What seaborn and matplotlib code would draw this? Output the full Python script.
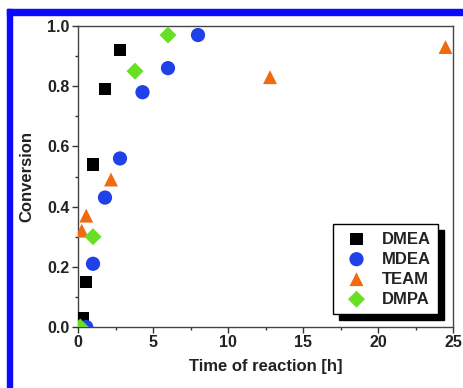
import matplotlib
matplotlib.use("Agg")
import matplotlib.pyplot as plt
import matplotlib.patches as mpatches
import seaborn as sns
import pandas as pd

# Conversion vs. reaction time for four amine catalysts
dmea_t = [0.35, 0.55, 1.0, 1.8, 2.8]
dmea_c = [0.03, 0.15, 0.54, 0.79, 0.92]

mdea_t = [0.55, 1.0, 1.8, 2.8, 4.3, 6.0, 8.0]
mdea_c = [0.0, 0.21, 0.43, 0.56, 0.78, 0.86, 0.97]

team_t = [0.25, 0.55, 2.2, 12.8, 24.5]
team_c = [0.32, 0.37, 0.49, 0.83, 0.93]

dmpa_t = [0.15, 1.0, 3.8, 6.0]
dmpa_c = [0.0, 0.30, 0.85, 0.97]

series = ["DMEA", "MDEA", "TEAM", "DMPA"]
colors = ["#000000", "#2040e8", "#f26a10", "#66e020"]
markers = ["s", "o", "^", "D"]
sizes = [80, 105, 100, 75]

x_ticks = [0, 5, 10, 15, 20, 25]
y_ticks = [0.0, 0.2, 0.4, 0.6, 0.8, 1.0]

frames = []
for name, t, c in zip(series, [dmea_t, mdea_t, team_t, dmpa_t],
                      [dmea_c, mdea_c, team_c, dmpa_c]):
    frames.append(pd.DataFrame({"time": t, "conv": c, "amine": name}))
df = pd.concat(frames, ignore_index=True)

sns.set_theme(style="white")
plt.rcParams["font.family"] = ["Liberation Sans", "DejaVu Sans"]
plt.rcParams["font.weight"] = "bold"

fig = plt.figure(figsize=(4.63, 3.88), dpi=100)
ax = fig.add_axes([78 / 463, 1 - 327 / 388, 375 / 463, 301 / 388])

for name, col, mk, sz in zip(series, colors, markers, sizes):
    sub = df[df["amine"] == name]
    sns.scatterplot(data=sub, x="time", y="conv", color=col, marker=mk,
                    s=sz, edgecolor="none", linewidth=0, label=name, ax=ax,
                    zorder=3)

ax.set_xlim(0, 25)
ax.set_ylim(0, 1.0)
ax.set_xticks(x_ticks)
ax.set_yticks(y_ticks)
ax.set_xticklabels([str(v) for v in x_ticks], fontsize=11.5, fontweight="bold")
ax.set_yticklabels([f"{v:.1f}" for v in y_ticks], fontsize=11.5, fontweight="bold")
ax.set_xticks([2.5, 7.5, 12.5, 17.5, 22.5], minor=True)
ax.set_yticks([0.1, 0.3, 0.5, 0.7, 0.9], minor=True)
ax.tick_params(axis="both", which="major", direction="out", length=4,
               width=1, color="#333333", bottom=True, left=True, pad=2,
               labelcolor="#222222")
ax.tick_params(axis="both", which="minor", direction="out", length=2,
               width=1, color="#333333", bottom=True, left=True)
for sp in ax.spines.values():
    sp.set_color("#444444")
    sp.set_linewidth(1.0)

ax.set_xlabel("Time of reaction [h]", fontsize=12, fontweight="bold",
              labelpad=6, color="#222222")
ax.set_ylabel("Conversion", fontsize=12, fontweight="bold", labelpad=9,
              color="#222222")

leg = ax.legend(loc="lower right", bbox_to_anchor=(0.96, 0.043),
                borderaxespad=0, frameon=True, fancybox=False,
                shadow={"color": "black", "alpha": 1.0, "ox": 4, "oy": -4},
                prop={"weight": "bold", "size": 12}, handletextpad=0.55,
                borderpad=0.45, labelspacing=0.3, handlelength=1.9,
                markerscale=1.0)
leg.get_frame().set_edgecolor("black")
leg.get_frame().set_linewidth(1.0)
leg.get_frame().set_alpha(1.0)
for txt in leg.get_texts():
    txt.set_color("#222222")

# blue frame strips along the top and left edges
fig.patches.append(mpatches.Rectangle((7 / 463, 0), 5 / 463, 1 - 9 / 388,
                                      transform=fig.transFigure,
                                      color="#0a0aff", zorder=10))
fig.patches.append(mpatches.Rectangle((7 / 463, 1 - 15 / 388), 1, 6 / 388,
                                      transform=fig.transFigure,
                                      color="#0a0aff", zorder=10))

fig.savefig("out.png", dpi=100)
